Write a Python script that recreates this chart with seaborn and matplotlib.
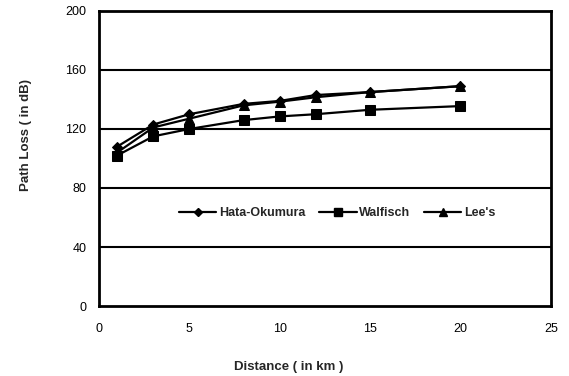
import matplotlib
matplotlib.use("Agg")
import matplotlib.pyplot as plt
import seaborn as sns
import pandas as pd
from matplotlib.lines import Line2D

distance = [1, 3, 5, 8, 10, 12, 15, 20]
hata = [108, 123, 130, 137, 139, 143, 145, 149]
walfisch = [102, 115, 120, 126, 128.5, 130, 133, 135.5]
lees = [104, 121, 127, 136, 138.5, 141.5, 145, 149]
series_names = ["Hata-Okumura", "Walfisch", "Lee's"]
markers = ["D", "s", "^"]
marker_sizes = [5, 6.5, 6.5]
y_ticks = [0, 40, 80, 120, 160, 200]
x_ticks = [0, 5, 10, 15, 20, 25]

sns.set_theme(style="white")
plt.rcParams["font.family"] = ["Liberation Sans", "DejaVu Sans"]

fig = plt.figure(figsize=(5.69, 3.76), dpi=100)
ax = fig.add_axes([0.174, 0.186, 0.794, 0.785])

df = pd.DataFrame({
    "Distance": distance * 3,
    "Loss": hata + walfisch + lees,
    "Model": [series_names[0]] * len(distance) + [series_names[1]] * len(distance) + [series_names[2]] * len(distance),
})

for name, mk, ms in zip(series_names, markers, marker_sizes):
    sub = df[df["Model"] == name]
    sns.lineplot(data=sub, x="Distance", y="Loss", ax=ax, color="black",
                 marker=mk, markersize=ms, linewidth=1.6, markeredgecolor="black",
                 label=name, legend=False)

ax.set_xlim(0, 25)
ax.set_ylim(0, 200)
ax.set_xticks(x_ticks)
ax.set_yticks(y_ticks)
ax.set_yticklabels([str(v) for v in y_ticks])
ax.set_xticklabels([str(v) for v in x_ticks])
for v in y_ticks[1:-1]:
    ax.axhline(v, color="black", linewidth=1.5, zorder=0)

for s in ax.spines.values():
    s.set_color("black")
    s.set_linewidth(2)
ax.tick_params(axis="both", direction="out", length=4, width=1.2, color="black",
               labelsize=9, labelcolor="black")
ax.tick_params(axis="y", pad=5)
ax.tick_params(axis="x", pad=8)

ax.set_xlabel("Distance ( in km )", fontsize=9.5, fontweight="bold")
ax.set_ylabel("Path Loss ( in dB)", fontsize=9.5, fontweight="bold")
ax.xaxis.set_label_coords(0.42, -0.185)
ax.yaxis.set_label_coords(-0.148, 0.58)

handles = [Line2D([0], [0], color="black", marker=m, markersize=s * 0.85, linewidth=1.6)
           for m, s in zip(markers, marker_sizes)]
ax.legend(handles, series_names, loc="center", bbox_to_anchor=(0.527, 0.315), ncol=3,
          frameon=False, prop={"size": 9, "weight": "bold"}, handlelength=3.0,
          columnspacing=1.1, handletextpad=0.2)

fig.savefig("out.png", dpi=100)
